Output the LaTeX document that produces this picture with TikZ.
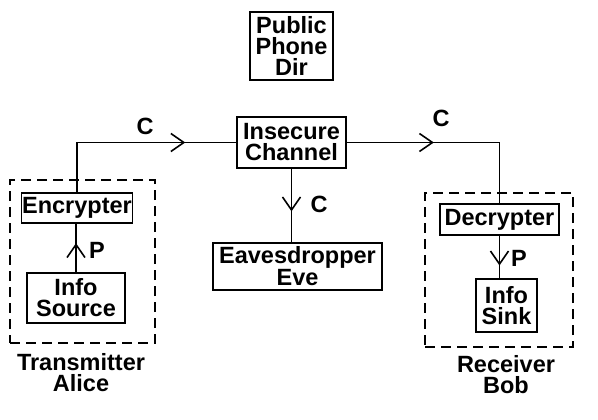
\documentclass[tikz,border=0pt]{standalone}
\usepackage{fontspec}
\setmainfont{Liberation Sans}
\usetikzlibrary{arrows.meta,decorations.markings}
\begin{document}
\begin{tikzpicture}[x=1pt,y=-1pt,
  txt/.style={font=\fontsize{23.5}{21}\selectfont\bfseries, align=center, inner sep=0pt},
  blk/.style={txt, draw, line width=1.6pt, minimum width=#1},
  grp/.style={draw, line width=1.8pt, dash pattern=on 10pt off 6pt, inner sep=0pt},
  wire/.style={line width=1.6pt},
  barb/.style={wire, postaction={decorate}, decoration={markings,
     mark=at position #1 with {\arrow{Straight Barb[length=13pt,width=18pt,line width=1.6pt]}}}}
]
\useasboundingbox (0,0) rectangle (598,420);
\node[blk=83pt, minimum height=68pt] (pub) at (291.5,46) {Public\\Phone\\Dir};
\node[blk=109pt, minimum height=51pt] (chan) at (291.5,142.5) {Insecure\\Channel};
\node[blk=111pt, minimum height=30pt] (enc) at (77,208) {Encrypter};
\node[blk=98pt, minimum height=50pt] (src) at (76,298) {Info\\Source};
\node[blk=169pt, minimum height=47pt] (eve) at (297.5,266.5) {Eavesdropper\\Eve};
\node[blk=119pt, minimum height=31pt] (dec) at (499.5,219.5) {Decrypter};
\node[blk=61pt, minimum height=53pt] (sink) at (506.5,305.5) {Info\\Sink};
\node[grp, minimum width=145pt, minimum height=163pt] (tx) at (82.5,261.5) {};
\node[grp, minimum width=148pt, minimum height=154pt] (rx) at (499,270) {};
\node[txt] (txl) at (81,372.5) {Transmitter\\Alice};
\node[txt] (rxl) at (506,375) {Receiver\\Bob};
\coordinate (tl) at (enc.north |- chan.west);
\coordinate (tr) at (dec.north |- chan.east);
\draw[wire] (enc.north) -- (tl);
\draw[barb=0.68] (tl) -- (chan.west);
\draw[barb=0.57] (chan.east) -- (tr);
\draw[wire] (tr) -- (dec.north);
\draw[barb=0.58] (chan.south) -- (chan.south |- eve.north);
\draw[barb=0.6] (src.north) -- (src.north |- enc.south);
\draw[barb=0.7] (dec.south) -- (dec.south |- sink.north);
\node[txt] (c1) at (145,126) {C};
\node[txt] (c2) at (441,118) {C};
\node[txt] (c3) at (319,204) {C};
\node[txt] (p1) at (97,250) {P};
\node[txt] (p2) at (519,258) {P};
\end{tikzpicture}
\end{document}
